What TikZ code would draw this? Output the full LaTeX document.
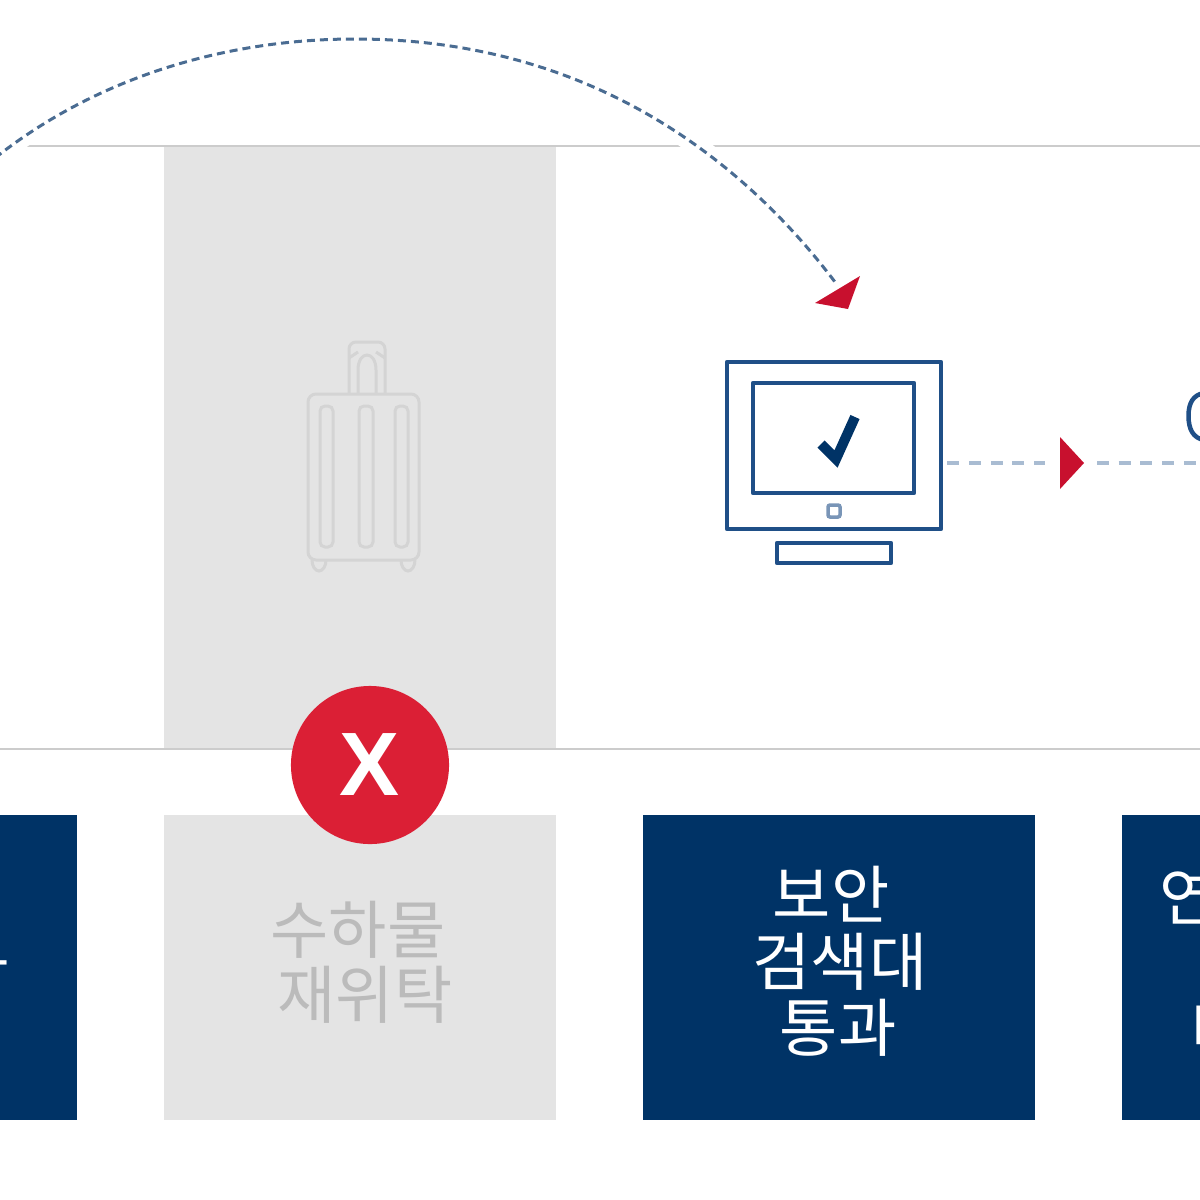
\documentclass[tikz,border=0pt]{standalone}
\usepackage{fontspec}
\setmainfont{Noto Sans CJK KR}
\newfontfamily\xfont{Liberation Sans}
\definecolor{navy}{HTML}{003366}
\definecolor{iconblue}{HTML}{1F4F87}
\definecolor{dashblue}{HTML}{4A6C92}
\definecolor{dashpale}{HTML}{A9BCD2}
\definecolor{paneg}{HTML}{E4E4E4}
\definecolor{ruleg}{HTML}{CCCCCC}
\definecolor{suitg}{HTML}{D4D4D4}
\definecolor{textg}{HTML}{BBBBBB}
\definecolor{markred}{HTML}{C8102E}
\definecolor{circred}{HTML}{DB1F35}
\tikzset{
  pane/.style={fill=paneg,draw=none,inner sep=0pt,minimum width=3.92cm},
  navybox/.style={fill=navy,draw=none,inner sep=0pt,minimum width=3.92cm,minimum height=3.05cm},
  lbl/.style={inner sep=0pt,font=\fontsize{18pt}{20pt}\selectfont,text height=0.5cm,text depth=0.08cm},
  lblw/.style={lbl,text=white},
  lblg/.style={lbl,text=textg},
  rulestyle/.style={draw=ruleg,line width=0.02cm},
  halo/.style={draw=white,line width=0.2cm},
  curvedash/.style={draw=dashblue,line width=0.03cm,dash pattern=on 0.08cm off 0.05cm},
  paledash/.style={draw=dashpale,line width=0.045cm,dash pattern=on 0.12cm off 0.097cm},
  tip/.style={fill=markred,draw=none},
  icon/.style={draw=iconblue,line width=0.045cm,line join=round},
  suit/.style={draw=suitg,line width=0.03cm},
}
\begin{document}
\begin{tikzpicture}[x=0.01cm,y=-0.01cm]
\useasboundingbox (0,0) rectangle (1200,1200);
\clip (0,0) rectangle (1200,1200);
% rules
\coordinate (ruleTL) at (0,146); \coordinate (ruleTR) at (1200,146);
\coordinate (ruleBL) at (0,749); \coordinate (ruleBR) at (1200,749);
\node[pane,minimum height=6.03cm] (column) at (360,447.5) {};
\draw[rulestyle] (ruleTL) -- (ruleTR);
\draw[rulestyle] (ruleBL) -- (ruleBR);
% boxes
\node[navybox] (boxL) at (-119,967.5) {};
\node[pane,minimum height=3.05cm] (boxG) at (360,967.5) {};
\node[navybox] (boxS) at (839,967.5) {};
\node[navybox] (boxR) at (1318,967.5) {};
% labels
\node[lblw,anchor=east] (lL) at (9,968) {하};
\node[lblg] (g1) at (358,932) {수하물};
\node[lblg] (g2) at (365,997) {재위탁};
\node[lblw] (s1) at (831,897) {보안};
\node[lblw] (s2) at (840,964) {검색대};
\node[lblw] (s3) at (838,1030) {통과};
\node[lblw,anchor=west] (r1) at (1159,899) {연};
\node[lblw,anchor=west] (r3) at (1190,1032) {비};
% curved connector
\coordinate (curveS) at (-5,158);
\coordinate (curveM) at (355,39);
\coordinate (curveE) at (835,282);
\draw[halo] (curveS) .. controls (100,75) and (230,39) .. (curveM) .. controls (580,39) and (735,150) .. (curveE);
\draw[curvedash] (curveS) .. controls (100,75) and (230,39) .. (curveM) .. controls (580,39) and (735,150) .. (curveE);
\fill[tip] (860,276) -- (815,303) -- (848,309) -- cycle;
% suitcase
\draw[suit,rounded corners=0.08cm] (308,394) rectangle (419,560);
\draw[suit,rounded corners=0.05cm] (320,406) rectangle (333,547);
\draw[suit,rounded corners=0.05cm] (359,406) rectangle (373,547);
\draw[suit,rounded corners=0.05cm] (395,406) rectangle (408,547);
\draw[suit,rounded corners=0.07cm] (349,394) -- (349,342) -- (385,342) -- (385,394);
\draw[suit] (358,394) -- (358,370) .. controls (358,350) and (376,350) .. (376,370) -- (376,394);
\draw[suit] (349,358) -- (358,352) (385,358) -- (376,352);
\draw[suit] (312,560) arc[start angle=180,end angle=0,x radius=7,y radius=11];
\draw[suit] (401,560) arc[start angle=180,end angle=0,x radius=7,y radius=11];
% monitor
\node[icon,inner sep=0pt,minimum width=2.14cm,minimum height=1.67cm] (monitor) at (834,445.5) {};
\node[icon,inner sep=0pt,minimum width=1.61cm,minimum height=1.10cm] (screen) at (833.5,438) {};
\node[draw=iconblue!60,line width=0.035cm,rounded corners=0.02cm,inner sep=0pt,minimum width=0.12cm,minimum height=0.12cm] (button) at (834,511) {};
\node[icon,inner sep=0pt,minimum width=1.14cm,minimum height=0.20cm] (stand) at (834,553) {};
\draw[navy,line width=0.1cm] (821,444) -- (836,459) -- (855,417);
% straight connector
\coordinate (dashA) at (1045,463);
\coordinate (dashB) at (1097,463);
\coordinate (dashC) at (1200,463);
\draw[paledash] (monitor.east |- dashA) ++(4,0) -- (dashA);
\draw[paledash] (dashB) -- (dashC);
\fill[tip] (1060,437) -- (1084,463) -- (1060,489) -- cycle;
% icon at right edge
\draw[icon] (1204,393) .. controls (1193,395) and (1188.5,403) .. (1188.5,416) .. controls (1188.5,429) and (1193,438) .. (1204,440);
% red circle
\node[circle,fill=circred,draw=none,minimum size=1.58cm,inner sep=0pt,text=white,font=\xfont\bfseries\fontsize{25.6pt}{28pt}\selectfont] (cross) at (370,765) {X};
\end{tikzpicture}
\end{document}
